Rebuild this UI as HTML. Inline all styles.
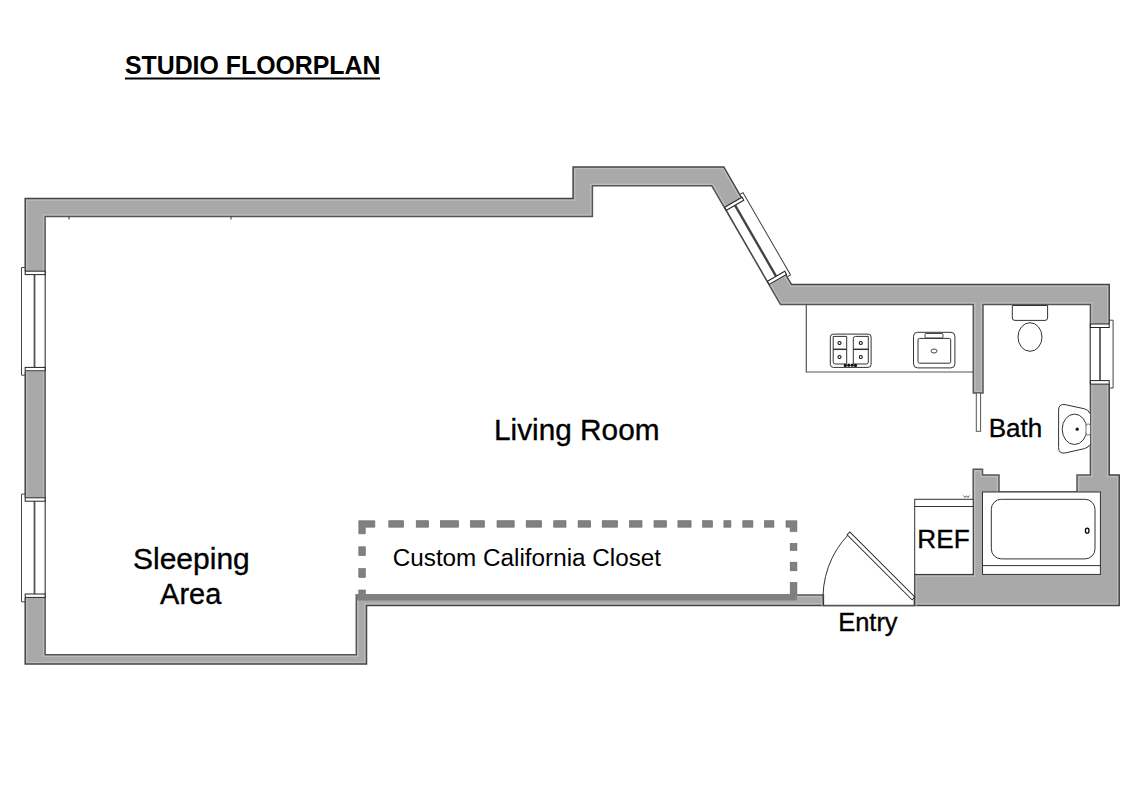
<!DOCTYPE html>
<html><head><meta charset="utf-8">
<style>
html,body{margin:0;padding:0;background:#fff;width:1147px;height:800px;overflow:hidden}
svg{display:block}
text{font-family:"Liberation Sans",sans-serif;fill:#000}
</style></head>
<body>
<svg width="1147" height="800" viewBox="0 0 1147 800">
<!-- title -->
<rect x="125" y="77.5" width="255" height="2" fill="#000"/>

<!-- walls: outer gray -->
<defs><clipPath id="oc"><path d="M25.2,198.5 L573.1,198.5 L573.1,167 L723.8,167 L791.5,284.6 L1109.2,284.6 L1109.2,475 L1119.2,475 L1119.2,605.5 L366.5,605.5 L366.5,664 L25.2,664 Z"/></clipPath></defs>
<path d="M25.2,198.5 L573.1,198.5 L573.1,167 L723.8,167 L791.5,284.6 L1109.2,284.6 L1109.2,475 L1119.2,475 L1119.2,605.5 L366.5,605.5 L366.5,664 L25.2,664 Z" fill="#a9a9a9"/>
<path d="M25.2,198.5 L573.1,198.5 L573.1,167 L723.8,167 L791.5,284.6 L1109.2,284.6 L1109.2,475 L1119.2,475 L1119.2,605.5 L366.5,605.5 L366.5,664 L25.2,664 Z" fill="none" stroke="#bcbcbc" stroke-width="4.5" clip-path="url(#oc)"/>
<path d="M25.2,198.5 L573.1,198.5 L573.1,167 L723.8,167 L791.5,284.6 L1109.2,284.6 L1109.2,475 L1119.2,475 L1119.2,605.5 L366.5,605.5 L366.5,664 L25.2,664 Z" fill="none" stroke="#444" stroke-width="1.5"/>
<!-- interior white -->
<path d="M45.1,216.5 L592.4,216.5 L592.4,185.8 L711.8,185.8 L780.5,304.4 L973.3,304.4 L973.3,393 L983,393 L983,304.4 L1090.4,304.4 L1090.4,475 L1077,475 L1077,492 L999,492 L999,475 L982.5,475 L982.5,469.3 L973.2,469.3 L973.2,574.4 L914.7,574.4 L914.7,605.5 L823.4,605.5 L823.4,595 L356.3,595 L356.3,654.7 L45.1,654.7 Z" fill="none" stroke="#bcbcbc" stroke-width="4.5" clip-path="url(#oc)"/>
<path d="M45.1,216.5 L592.4,216.5 L592.4,185.8 L711.8,185.8 L780.5,304.4 L973.3,304.4 L973.3,393 L983,393 L983,304.4 L1090.4,304.4 L1090.4,475 L1077,475 L1077,492 L999,492 L999,475 L982.5,475 L982.5,469.3 L973.2,469.3 L973.2,574.4 L914.7,574.4 L914.7,605.5 L823.4,605.5 L823.4,595 L356.3,595 L356.3,654.7 L45.1,654.7 Z" fill="#fff" stroke="#555" stroke-width="1.5"/>

<!-- left windows -->
<g id="winL">
<rect x="22" y="271" width="23" height="100.3" fill="#fff"/>
<path d="M25,267.5 L21.5,267.5 L21.5,375.2 L25,375.2" fill="none" stroke="#444" stroke-width="1"/>
<line x1="45.1" y1="271" x2="45.1" y2="371" stroke="#666" stroke-width="1.2"/>
<line x1="34.5" y1="274.5" x2="34.5" y2="367.5" stroke="#555" stroke-width="1.8"/>
<rect x="25.2" y="271.2" width="19.9" height="3.4" fill="#fff" stroke="#222" stroke-width="1"/>
<rect x="25.2" y="367.4" width="19.9" height="3.4" fill="#fff" stroke="#222" stroke-width="1"/>
</g>
<use href="#winL" transform="translate(0,226.6)"/>

<!-- right bath window -->
<g>
<rect x="1090.4" y="324" width="21" height="60" fill="#fff"/>
<path d="M1109.2,320.2 L1113.1,320.2 L1113.1,388 L1109.2,388" fill="none" stroke="#444" stroke-width="1"/>
<line x1="1090.4" y1="324" x2="1090.4" y2="384" stroke="#666" stroke-width="1.2"/>
<line x1="1100" y1="327.5" x2="1100" y2="380.5" stroke="#555" stroke-width="1.8"/>
<rect x="1090.4" y="324" width="18.8" height="3.5" fill="#fff" stroke="#222" stroke-width="1"/>
<rect x="1090.4" y="380.6" width="18.8" height="3.5" fill="#fff" stroke="#222" stroke-width="1"/>
</g>

<!-- diagonal window -->
<g transform="translate(755.6,240.8) rotate(-30)">
<rect x="-10" y="-43" width="22.5" height="86" fill="#fff"/>
<line x1="-10" y1="-43" x2="-10" y2="43" stroke="#444" stroke-width="1"/>
<path d="M10,-48 L13.2,-48 L13.2,47 L10,47" fill="none" stroke="#444" stroke-width="1"/>
<line x1="0" y1="-41" x2="0" y2="41" stroke="#444" stroke-width="2.4"/>
<rect x="-10" y="-44.5" width="20" height="3.5" fill="#fff" stroke="#222" stroke-width="1"/>
<rect x="-10" y="41" width="20" height="3.5" fill="#fff" stroke="#222" stroke-width="1"/>
</g>

<!-- kitchen counter -->
<path d="M806.3,304.3 L806.3,372 L973.3,372" fill="none" stroke="#555" stroke-width="1.2"/>
<!-- stove -->
<rect x="830.3" y="334.1" width="40.8" height="33.3" rx="3" fill="#fff" stroke="#333" stroke-width="1"/>
<path d="M833.2,336.4 L846.7,336.4 L846.7,364 L835.5,364 Q833.2,364 833.2,361.7 Z" fill="none" stroke="#333" stroke-width="1"/>
<path d="M855.5,336.4 L868.3,336.4 L868.3,362 Q868.3,364 866.3,364 L853.3,364 L853.3,338.6 Q853.3,336.4 855.5,336.4 Z" fill="none" stroke="#333" stroke-width="1"/>
<line x1="833.2" y1="349.3" x2="846.7" y2="349.3" stroke="#333" stroke-width="1.5"/>
<line x1="853.3" y1="349.3" x2="868.3" y2="349.3" stroke="#333" stroke-width="1.5"/>
<circle cx="839.5" cy="343" r="1.5" fill="none" stroke="#111" stroke-width="1.1"/>
<circle cx="860.8" cy="343" r="1.5" fill="none" stroke="#111" stroke-width="1.1"/>
<circle cx="839.5" cy="357" r="1.5" fill="none" stroke="#111" stroke-width="1.1"/>
<circle cx="860.8" cy="357" r="1.5" fill="none" stroke="#111" stroke-width="1.1"/>
<g fill="#111"><circle cx="845.3" cy="365.4" r="1.6"/><circle cx="848.8" cy="365.2" r="1.6"/><circle cx="852.2" cy="365.2" r="1.6"/><circle cx="855.5" cy="365.4" r="1.6"/></g>
<!-- sink -->
<rect x="913.5" y="332.3" width="41.4" height="35.6" rx="4" fill="#fff" stroke="#333" stroke-width="1"/>
<rect x="918" y="338.4" width="32.7" height="24.8" rx="1.5" fill="none" stroke="#333" stroke-width="1"/>
<rect x="925" y="333.5" width="18" height="4.5" rx="1" fill="none" stroke="#333" stroke-width="0.9"/>
<ellipse cx="934" cy="351" rx="3" ry="2" fill="none" stroke="#333" stroke-width="0.9"/>

<!-- bath door (thin) -->
<rect x="976.3" y="393" width="4.3" height="38.3" fill="#fff" stroke="#555" stroke-width="1"/>

<!-- toilet -->
<path d="M1012.3,305.5 L1047.6,305.5 L1047.6,318 Q1047.6,320.4 1045,320.4 L1015,320.4 Q1012.3,320.4 1012.3,318 Z" fill="#fff" stroke="#333" stroke-width="1"/>
<ellipse cx="1030" cy="337" rx="12" ry="14.3" fill="#fff" stroke="#333" stroke-width="1"/>

<!-- bath sink -->
<path d="M1090,413.5 Q1088,409.5 1084.5,408.8 L1065,404.6 Q1058.6,403.6 1058.6,410 L1058.6,447.5 Q1058.6,454 1065,453 L1084.5,448.6 Q1088.5,447.6 1090,444.5" fill="#fff" stroke="#333" stroke-width="1"/>
<ellipse cx="1074.5" cy="429.3" rx="12.3" ry="15.2" fill="none" stroke="#333" stroke-width="1"/>
<circle cx="1077.2" cy="429.2" r="1.6" fill="#111"/>
<rect x="1086" y="424" width="4.5" height="11" rx="2" fill="#fff" stroke="#555" stroke-width="0.8"/>

<!-- REF -->
<rect x="914.7" y="499.3" width="58.5" height="75.1" fill="#fff" stroke="#333" stroke-width="1"/>
<line x1="914.7" y1="506.5" x2="973.2" y2="506.5" stroke="#333" stroke-width="1"/>

<!-- tub -->
<rect x="982.5" y="492" width="117.9" height="82.4" fill="#fff" stroke="#333" stroke-width="1"/>
<rect x="991.3" y="499.3" width="103.7" height="59.6" rx="10" fill="#fff" stroke="#333" stroke-width="1"/>
<line x1="982.5" y1="565.6" x2="1100.4" y2="565.6" stroke="#333" stroke-width="1"/>
<ellipse cx="1087.2" cy="530.7" rx="1.8" ry="2.5" fill="none" stroke="#000" stroke-width="1.3"/>

<!-- closet dashed -->
<g fill="#808080" stroke="#666" stroke-width="0.6">
<path d="M358.8,520.7 L374.8,520.7 L374.8,527.2 L365.3,527.2 L365.3,533.8 L358.8,533.8 Z"/>
<path d="M786,520.7 L796.9,520.7 L796.9,531.6 L790.2,531.6 L790.2,527.2 L786,527.2 Z"/>
<rect x="388.8" y="520.7" width="14.8" height="6.5"/>
<rect x="416.2" y="520.7" width="12.4" height="6.5"/>
<rect x="440.3" y="520.7" width="18.3" height="6.5"/>
<rect x="470.4" y="520.7" width="14.0" height="6.5"/>
<rect x="497" y="520.7" width="17.2" height="6.5"/>
<rect x="526.2" y="520.7" width="15.4" height="6.5"/>
<rect x="553.7" y="520.7" width="12.3" height="6.5"/>
<rect x="578.1" y="520.7" width="12.6" height="6.5"/>
<rect x="602.2" y="520.7" width="15.4" height="6.5"/>
<rect x="629.4" y="520.7" width="12.6" height="6.5"/>
<rect x="654" y="520.7" width="12.5" height="6.5"/>
<rect x="677.9" y="520.7" width="13.2" height="6.5"/>
<rect x="702.6" y="520.7" width="9.9" height="6.5"/>
<rect x="723.9" y="520.7" width="7.0" height="6.5"/>
<rect x="742.8" y="520.7" width="10.1" height="6.5"/>
<rect x="764.4" y="520.7" width="9.5" height="6.5"/>
<rect x="358.8" y="546.8" width="6.5" height="8.8"/>
<rect x="358.8" y="568.6" width="6.5" height="8.8"/>
<rect x="358.8" y="590" width="6.5" height="6"/>
<rect x="790.2" y="543.4" width="6.7" height="7.1"/>
<rect x="790.2" y="562.2" width="6.7" height="8.6"/>
<rect x="790.2" y="582.5" width="6.7" height="11.5"/>
<rect x="356.6" y="594" width="440.3" height="6.5" stroke="none"/>
</g>
<!-- entry door -->
<path d="M823.4,605.5 A91,91 0 0 1 848.5,534.5" fill="none" stroke="#333" stroke-width="1"/>
<g transform="translate(913.5,598.5) rotate(-135)">
<rect x="0" y="-2" width="92" height="4" fill="#fff" stroke="#333" stroke-width="1"/>
</g>
<!-- small marks -->
<path d="M963.5,495.5 L965,497.5 L966.5,495.8 L968,497.5 L969.5,495.5" fill="none" stroke="#333" stroke-width="0.8"/>
<line x1="69" y1="216.5" x2="69" y2="219.5" stroke="#333" stroke-width="1"/>
<line x1="231" y1="216.5" x2="231" y2="219.5" stroke="#333" stroke-width="1"/>
<line x1="914.2" y1="595.5" x2="914.2" y2="605.5" stroke="#333" stroke-width="1"/>
<!-- labels -->
<text stroke="#000" stroke-width="0.35" x="494.01" y="439.9" font-size="30" textLength="165.52" lengthAdjust="spacingAndGlyphs">Living Room</text>
<text stroke="#000" stroke-width="0.35" x="133.0" y="568.9" font-size="30" textLength="116.77" lengthAdjust="spacingAndGlyphs">Sleeping</text>
<text stroke="#000" stroke-width="0.35" x="160.1" y="604.0" font-size="30" textLength="61.2" lengthAdjust="spacingAndGlyphs">Area</text>
<text stroke="#000" stroke-width="0.35" x="988.7" y="436.9" font-size="26" textLength="53.61" lengthAdjust="spacingAndGlyphs">Bath</text>
<text stroke="#000" stroke-width="0.35" x="917.39" y="547.5" font-size="26" textLength="52.32" lengthAdjust="spacingAndGlyphs">REF</text>
<text stroke="#000" stroke-width="0.35" x="838.24" y="630.5" font-size="26" textLength="59.35" lengthAdjust="spacingAndGlyphs">Entry</text>
<text x="392.75" y="565.9" font-size="23" textLength="268.25" lengthAdjust="spacingAndGlyphs">Custom California Closet</text>
<text x="124.9" y="74.3" font-size="25.5" font-weight="bold" textLength="255.58" lengthAdjust="spacingAndGlyphs">STUDIO FLOORPLAN</text>
</svg>
</body></html>
